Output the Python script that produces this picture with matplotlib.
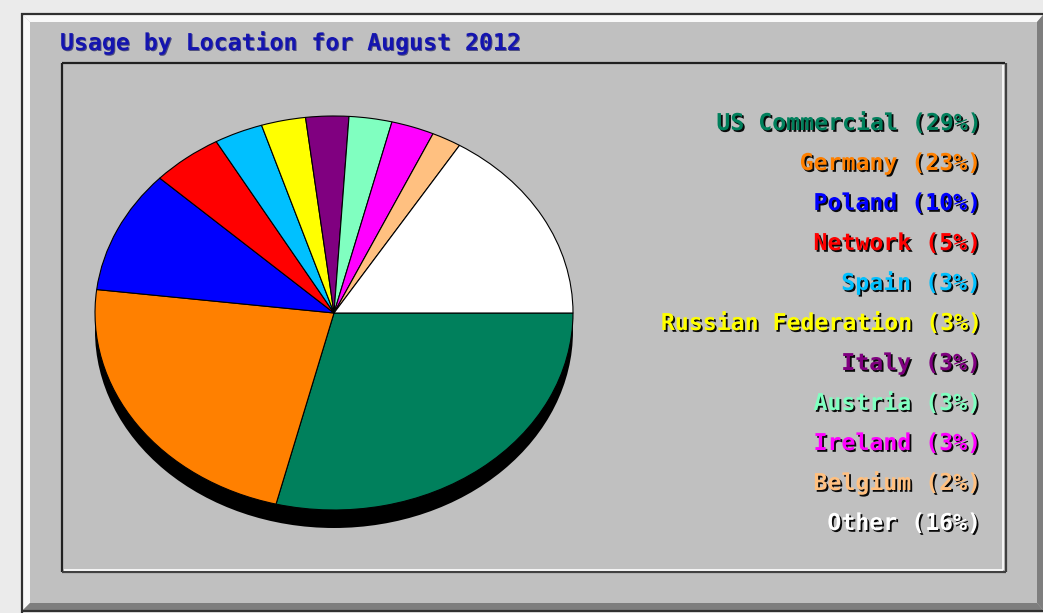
import matplotlib
matplotlib.use('Agg')
import matplotlib.pyplot as plt
from matplotlib.patches import Rectangle, Polygon, Ellipse
import matplotlib.patheffects as pe

# ---- data ----
categories = ['US Commercial', 'Germany', 'Poland', 'Network', 'Spain',
              'Russian Federation', 'Italy', 'Austria', 'Ireland', 'Belgium', 'Other']
shares = [28.9, 23.0, 10.1, 4.8, 3.3, 3.0, 2.9, 2.9, 2.9, 2.0, 16.2]
slice_colors = ['#00805C', '#FF8000', '#0000FF', '#FF0000', '#00C0FF',
                '#FFFF00', '#800080', '#80FFC0', '#FF00FF', '#FFC080', '#FFFFFF']
title = 'Usage by Location for August 2012'

W, H = 1043, 613
fig = plt.figure(figsize=(W / 100, H / 100), dpi=100, facecolor='#EBEBEB')

bg = fig.add_axes([0, 0, 1, 1])
bg.set_xlim(0, W)
bg.set_ylim(H, 0)
bg.axis('off')

# outer panel with bevel
bg.add_patch(Rectangle((21, 13), W - 21, 598, fc='#C0C0C0', ec='none'))
bg.add_patch(Polygon([(23, 15), (1043, 15), (1037, 22), (30, 22)], closed=True, fc='#F8F8F8', ec='none'))
bg.add_patch(Polygon([(23, 15), (30, 22), (30, 603), (23, 610)], closed=True, fc='#F8F8F8', ec='none'))
bg.add_patch(Polygon([(23, 610), (30, 603), (1037, 603), (1043, 610)], closed=True, fc='#7E7E7E', ec='none'))
bg.add_patch(Polygon([(1037, 22), (1043, 15), (1043, 610), (1037, 603)], closed=True, fc='#7E7E7E', ec='none'))
bg.plot([21, W], [13.5, 13.5], color='#303030', lw=1.6, solid_capstyle='butt')
bg.plot([21.5, 21.5], [13, 613], color='#303030', lw=1.6, solid_capstyle='butt')
bg.plot([21, W], [611, 611], color='#303030', lw=1.6, solid_capstyle='butt')

# inner rectangle (etched)
bg.plot([62, 1005], [63, 63], color='#202020', lw=1.6, solid_capstyle='butt')
bg.plot([62, 62], [63, 572], color='#202020', lw=1.6, solid_capstyle='butt')
bg.plot([62, 1006], [572, 572], color='#404040', lw=1.6, solid_capstyle='butt')
bg.plot([1005.5, 1005.5], [63, 572], color='#404040', lw=1.6, solid_capstyle='butt')
bg.plot([64, 1003], [569.8, 569.8], color='white', lw=1.2, solid_capstyle='butt')
bg.plot([1003.2, 1003.2], [65, 570], color='white', lw=1.2, solid_capstyle='butt')

mono = 'DejaVu Sans Mono'
fs = 16.7

# title
bg.text(60, 50, title, ha='left', va='baseline', fontfamily=mono, fontweight='bold',
        fontsize=fs, color='#1414B0',
        path_effects=[pe.SimplePatchShadow(offset=(0.7, -0.7), shadow_rgbFace='#000050', alpha=0.6), pe.Normal()])

# legend labels
for i, (cat, v, c) in enumerate(zip(categories, shares, slice_colors)):
    y = 130 + 40 * i
    bg.text(980, y, f'{cat} ({v:.0f}%)', ha='right', va='baseline', fontfamily=mono,
            fontweight='bold', fontsize=fs, color=c,
            path_effects=[pe.SimplePatchShadow(offset=(1.3, -1.3), shadow_rgbFace='black', alpha=0.95),
                          pe.Normal()])

# pie (elliptical, pixel-space ellipse)
cx, cy, rx, ry = 334, 313, 239, 197
pax = fig.add_axes([(cx - rx) / W, (H - cy - ry) / H, 2 * rx / W, 2 * ry / H])
pax.patch.set_alpha(0)
pax.pie(shares, colors=slice_colors, startangle=0, counterclock=False,
        wedgeprops=dict(edgecolor='black', linewidth=0.8))
pax.set_aspect('auto')
pax.set_xlim(-1, 1)
pax.set_ylim(-1, 1)
pax.axis('off')
pax.add_patch(Ellipse((0, -2 * 18 / (2 * ry)), 2, 2, fc='black', ec='none', zorder=0.5, clip_on=False))

fig.savefig('out.png', dpi=100, facecolor=fig.get_facecolor())
